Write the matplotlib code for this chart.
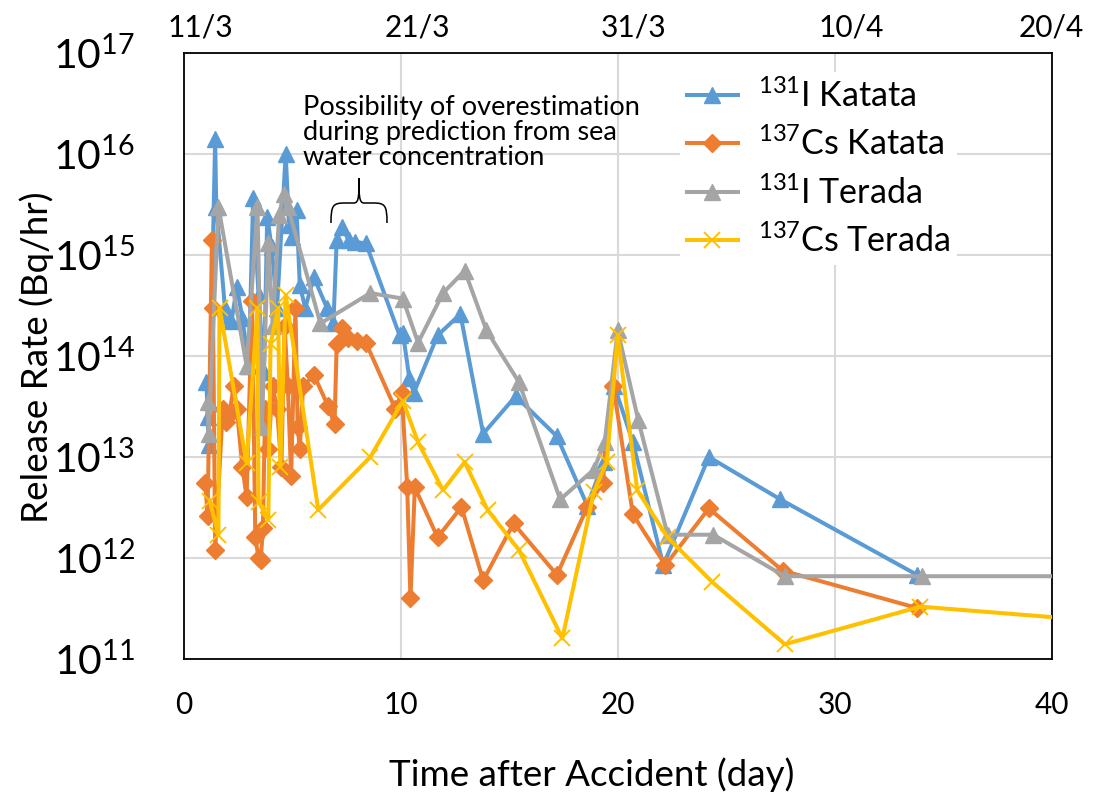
import math
import matplotlib
matplotlib.use("Agg")
import matplotlib.pyplot as plt
from matplotlib.ticker import FixedLocator, FuncFormatter
from matplotlib.path import Path
from matplotlib.patches import PathPatch

plt.rcParams['font.family'] = ['Lato', 'DejaVu Sans']
plt.rcParams['mathtext.fontset'] = 'custom'
plt.rcParams['mathtext.rm'] = 'Lato'
plt.rcParams['mathtext.it'] = 'Lato:italic'
plt.rcParams['mathtext.bf'] = 'Lato:bold'

# ---------------- data ----------------
i131_katata_x = [1.05, 1.1, 1.15, 1.45, 1.5, 1.9, 2.05, 2.2, 2.45, 2.7, 3.0, 3.2, 3.45, 3.7, 3.85,
                 4.05, 4.3, 4.7, 4.85, 5.0, 5.2, 5.35, 5.6, 6.0, 6.6, 6.9, 7.05, 7.3, 7.6, 7.9, 8.4,
                 9.95, 10.1, 10.4, 10.6, 11.7, 12.75, 13.8, 15.3, 17.2, 18.6, 19.35, 19.85, 20.7,
                 22.1, 24.2, 27.5, 33.8]
i131_katata_y = [5.5e13, 2.5e13, 1.3e13, 1.4e16, 3e15, 3e14, 2.5e14, 2.2e14, 4.8e14, 2.4e14, 8e13,
                 3.7e15, 4e14, 7e13, 2.4e15, 1.2e15, 3e14, 1e16, 2e15, 1.5e15, 2.8e15, 5e14, 3e14,
                 6e14, 3e14, 2.1e14, 1.4e15, 1.9e15, 1.4e15, 1.35e15, 1.3e15, 1.6e14, 1.7e14, 6e13,
                 4.3e13, 1.6e14, 2.6e14, 1.7e13, 4e13, 1.6e13, 3.3e12, 9e12, 5e13, 1.4e13, 8.5e11,
                 1e13, 3.8e12, 6.8e11]

cs137_katata_x = [1.0, 1.1, 1.3, 1.35, 1.45, 1.8, 1.95, 2.1, 2.3, 2.45, 2.7, 2.9, 3.15, 3.3, 3.45,
                  3.55, 3.65, 3.75, 3.9, 4.1, 4.3, 4.5, 4.65, 4.8, 4.95, 5.15, 5.25, 5.35, 5.5, 6.0,
                  6.65, 6.95, 7.05, 7.3, 7.55, 8.0, 8.4, 9.75, 10.05, 10.3, 10.45, 10.65, 11.7, 12.8,
                  13.8, 15.2, 17.2, 18.6, 19.3, 19.8, 20.7, 22.2, 24.2, 27.6, 33.8]
cs137_katata_y = [5.5e12, 2.6e12, 1.4e15, 3e14, 1.2e12, 3e13, 2.2e13, 2.6e13, 5e13, 3e13, 8e12, 4e12,
                  3.5e14, 1.6e12, 1e12, 9.5e11, 2e12, 3e13, 1.2e13, 5e13, 3e13, 8e12, 2e14, 5e13,
                  6.5e12, 3e14, 2e13, 1.2e13, 5e13, 6.5e13, 3.2e13, 2.1e13, 1.3e14, 1.9e14, 1.5e14,
                  1.4e14, 1.35e14, 3e13, 4.3e13, 5e12, 4e11, 5e12, 1.6e12, 3.2e12, 6e11, 2.2e12,
                  6.8e11, 3.2e12, 5.5e12, 5e13, 2.7e12, 8.5e11, 3.1e12, 7.5e11, 3.2e11]

i131_terada_x = [1.1, 1.15, 1.6, 2.9, 3.4, 3.6, 3.9, 4.1, 4.4, 4.6, 4.8, 6.3, 8.6, 10.1, 10.8, 11.95,
                 12.95, 13.95, 15.45, 17.35, 18.9, 19.4, 20.0, 20.95, 22.3, 24.4, 27.7, 34.0, 40.0]
i131_terada_y = [3.5e13, 1.7e13, 3e15, 8e13, 3e15, 2e13, 1.3e15, 2e14, 2.5e15, 4e15, 3e15, 2.1e14,
                 4.2e14, 3.7e14, 1.35e14, 4.2e14, 7e14, 1.8e14, 5.5e13, 3.8e12, 7.5e12, 1.4e13,
                 1.8e14, 2.3e13, 1.7e12, 1.7e12, 6.6e11, 6.6e11, 6.6e11]

cs137_terada_x = [1.2, 1.6, 1.65, 2.9, 3.4, 3.45, 3.9, 4.0, 4.35, 4.45, 4.7, 6.2, 8.6, 10.1, 10.8,
                  11.95, 12.95, 14.0, 15.45, 17.45, 18.9, 19.5, 20.0, 20.9, 22.3, 24.35, 27.7, 33.95, 40.0]
cs137_terada_y = [3.7e12, 1.7e12, 3e14, 8.7e12, 3e14, 3.6e12, 2.4e12, 1.3e14, 3e14, 8e12, 4e14, 3e12,
                  1e13, 3.6e13, 1.4e13, 4.7e12, 8.9e12, 3e12, 1.2e12, 1.6e11, 4.5e12, 9e12, 1.6e14,
                  4.7e12, 1.6e12, 5.8e11, 1.4e11, 3.3e11, 2.6e11]

series_labels = [r"$\mathregular{^{131}}$I Katata", r"$\mathregular{^{137}}$Cs Katata",
                 r"$\mathregular{^{131}}$I Terada", r"$\mathregular{^{137}}$Cs Terada"]

x_ticks = [0, 10, 20, 30, 40]
y_exponents = [11, 12, 13, 14, 15, 16, 17]
top_labels = ["11/3", "21/3", "31/3", "10/4", "20/4"]
top_label_pos = [0.75, 10.75, 20.75, 30.75, 40.0]

annotation_text = "Possibility of overestimation\nduring prediction from sea\nwater concentration"

# ---------------- figure ----------------
W, H = 1094, 801
fig = plt.figure(figsize=(W / 100, H / 100), dpi=100)

def fx(px):
    return px / W

def fy(py):
    return 1 - py / H

ax = fig.add_axes([fx(183.7), fy(659), fx(1051.7) - fx(183.7), fy(53) - fy(659)])
ax.set_yscale('log')
ax.set_xlim(0, 40)
ax.set_ylim(1e11, 1e17)

blue, orange, gray, yellow = '#5B9BD5', '#ED7D31', '#A5A5A5', '#FFC000'
lw = 2.9

ax.plot(i131_katata_x, i131_katata_y, color=blue, lw=lw, marker='^', ms=12,
        label=series_labels[0], zorder=3)
ax.plot(cs137_katata_x, cs137_katata_y, color=orange, lw=lw, marker='D', ms=9,
        label=series_labels[1], zorder=4)
ax.plot(i131_terada_x, i131_terada_y, color=gray, lw=lw, marker='^', ms=12,
        markevery=list(range(len(i131_terada_x) - 1)), label=series_labels[2], zorder=5)
ax.plot(cs137_terada_x, cs137_terada_y, color=yellow, lw=lw, marker='x', ms=11, mew=1.4,
        markevery=list(range(len(cs137_terada_x) - 1)), label=series_labels[3], zorder=6)

# axes styling
ax.xaxis.set_major_locator(FixedLocator(x_ticks))
ax.yaxis.set_major_locator(FixedLocator([10.0 ** e for e in y_exponents]))
ax.yaxis.set_minor_locator(FixedLocator([]))
ax.yaxis.set_major_formatter(FuncFormatter(lambda v, p: r"$\mathregular{10^{%d}}$" % round(math.log10(v))))
ax.tick_params(axis='x', length=0, pad=23, labelsize=21.5)
ax.tick_params(axis='y', length=0, pad=35, labelsize=29.5)
ax.grid(True, which='major', color='#D9D9D9', lw=1.5, zorder=0)
ax.set_axisbelow(True)
for s in ax.spines.values():
    s.set_color('black')
    s.set_linewidth(1.3)

# top date labels
for lab, pos in zip(top_labels, top_label_pos):
    ax.text(pos, 1.0 + 12 / (659 - 53), lab, transform=ax.get_xaxis_transform(), ha='center',
            va='bottom', fontsize=21.5, clip_on=False)

# axis titles
fig.text(fx(592), fy(775), "Time after Accident (day)", ha='center', va='center', fontsize=26.5)
fig.text(fx(37), fy(357), "Release Rate (Bq/hr)", ha='center', va='center', fontsize=26.5,
         rotation=90)

# annotation
fig.text(fx(303), fy(95), annotation_text, ha='left', va='top', fontsize=19.5, linespacing=1.0)

# brace
verts = [(fx(331), fy(223)),
         (fx(331), fy(205)), (fx(333), fy(203)), (fx(345), fy(203)),
         (fx(354), fy(203)),
         (fx(359), fy(203)), (fx(359), fy(195)), (fx(359), fy(178)),
         (fx(359), fy(195)), (fx(359), fy(203)), (fx(364), fy(203)),
         (fx(373), fy(203)),
         (fx(385), fy(203)), (fx(387), fy(205)), (fx(387), fy(223))]
codes = [Path.MOVETO,
         Path.CURVE4, Path.CURVE4, Path.CURVE4,
         Path.LINETO,
         Path.CURVE4, Path.CURVE4, Path.CURVE4,
         Path.CURVE4, Path.CURVE4, Path.CURVE4,
         Path.LINETO,
         Path.CURVE4, Path.CURVE4, Path.CURVE4]
fig.patches.append(PathPatch(Path(verts, codes), transform=fig.transFigure, fill=False,
                             edgecolor='black', lw=1.1))

# legend
leg = ax.legend(loc='upper left', bbox_to_anchor=(fx(680), fy(72)), bbox_transform=fig.transFigure,
                fontsize=24.5, frameon=True, facecolor='white', edgecolor='none', framealpha=1,
                fancybox=False, handlelength=1.5, handletextpad=0.6, labelspacing=0.42,
                borderpad=0.2, borderaxespad=0)
leg.set_zorder(10)

fig.savefig("out.png", dpi=100)
